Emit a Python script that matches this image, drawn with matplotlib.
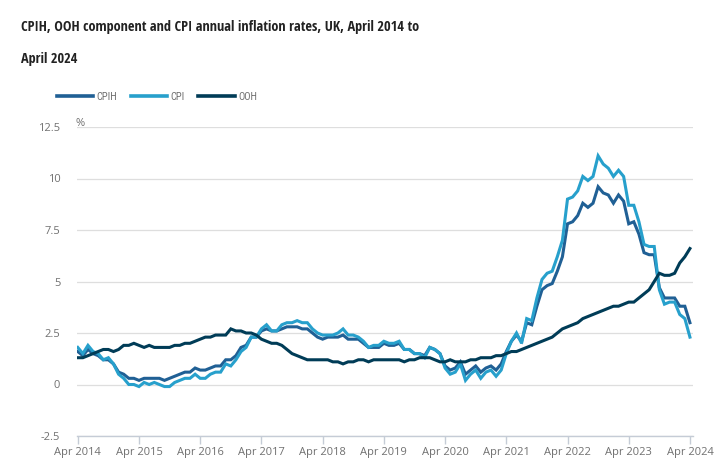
import numpy as np
import matplotlib
matplotlib.use("Agg")
import matplotlib.pyplot as plt
from matplotlib.lines import Line2D
from matplotlib import font_manager as fm

# ---- data (monthly, Apr 2014 .. Apr 2024) ----
cpih = [1.6, 1.4, 1.7, 1.5, 1.4, 1.2, 1.2, 1.0, 0.6,
        0.5, 0.3, 0.3, 0.2, 0.3, 0.3, 0.3, 0.3, 0.2, 0.3, 0.4, 0.5,
        0.6, 0.6, 0.8, 0.7, 0.7, 0.8, 0.9, 0.9, 1.2, 1.2, 1.4, 1.8,
        1.9, 2.3, 2.3, 2.6, 2.7, 2.6, 2.6, 2.7, 2.8, 2.8, 2.8, 2.7,
        2.7, 2.5, 2.3, 2.2, 2.3, 2.3, 2.3, 2.4, 2.2, 2.2, 2.2, 2.0,
        1.8, 1.8, 1.8, 2.0, 1.9, 1.9, 2.0, 1.7, 1.7, 1.5, 1.5, 1.4,
        1.8, 1.7, 1.5, 0.9, 0.7, 0.8, 1.1, 0.5, 0.7, 0.9, 0.6, 0.8,
        0.9, 0.7, 1.0, 1.6, 2.1, 2.4, 2.1, 3.0, 2.9, 3.8, 4.6, 4.8,
        4.9, 5.5, 6.2, 7.8, 7.9, 8.2, 8.8, 8.6, 8.8, 9.6, 9.3, 9.2,
        8.8, 9.2, 8.9, 7.8, 7.9, 7.3, 6.4, 6.3, 6.3, 4.7, 4.2, 4.2,
        4.2, 3.8, 3.8, 3.0]
cpi = [1.8, 1.5, 1.9, 1.6, 1.5, 1.2, 1.3, 1.0, 0.5,
       0.3, 0.0, 0.0, -0.1, 0.1, 0.0, 0.1, 0.0, -0.1, -0.1, 0.1, 0.2,
       0.3, 0.3, 0.5, 0.3, 0.3, 0.5, 0.6, 0.6, 1.0, 0.9, 1.2, 1.6,
       1.8, 2.3, 2.3, 2.7, 2.9, 2.6, 2.6, 2.9, 3.0, 3.0, 3.1, 3.0,
       3.0, 2.7, 2.5, 2.4, 2.4, 2.4, 2.5, 2.7, 2.4, 2.4, 2.3, 2.1,
       1.8, 1.9, 1.9, 2.1, 2.0, 2.0, 2.1, 1.7, 1.7, 1.5, 1.5, 1.3,
       1.8, 1.7, 1.5, 0.8, 0.5, 0.6, 1.0, 0.2, 0.5, 0.7, 0.3, 0.6,
       0.7, 0.4, 0.7, 1.5, 2.1, 2.5, 2.0, 3.2, 3.1, 4.2, 5.1, 5.4,
       5.5, 6.2, 7.0, 9.0, 9.1, 9.4, 10.1, 9.9, 10.1, 11.1, 10.7, 10.5,
       10.1, 10.4, 10.1, 8.7, 8.7, 7.9, 6.8, 6.7, 6.7, 4.6, 3.9, 4.0,
       4.0, 3.4, 3.2, 2.3]
ooh = [1.3, 1.3, 1.4, 1.5, 1.6, 1.7, 1.7, 1.6, 1.7,
       1.9, 1.9, 2.0, 1.9, 1.8, 1.9, 1.8, 1.8, 1.8, 1.8, 1.9, 1.9,
       2.0, 2.0, 2.1, 2.2, 2.3, 2.3, 2.4, 2.4, 2.4, 2.7, 2.6, 2.6,
       2.5, 2.5, 2.4, 2.2, 2.1, 2.0, 2.0, 1.9, 1.7, 1.5, 1.4, 1.3,
       1.2, 1.2, 1.2, 1.2, 1.2, 1.1, 1.1, 1.0, 1.1, 1.1, 1.2, 1.2,
       1.1, 1.2, 1.2, 1.2, 1.2, 1.2, 1.2, 1.1, 1.2, 1.2, 1.3, 1.3,
       1.3, 1.2, 1.1, 1.1, 1.2, 1.1, 1.1, 1.1, 1.2, 1.2, 1.3, 1.3,
       1.3, 1.4, 1.4, 1.5, 1.6, 1.6, 1.7, 1.8, 1.9, 2.0, 2.1, 2.2,
       2.3, 2.5, 2.7, 2.8, 2.9, 3.0, 3.2, 3.3, 3.4, 3.5, 3.6, 3.7,
       3.8, 3.8, 3.9, 4.0, 4.0, 4.2, 4.4, 4.6, 5.0, 5.4, 5.3, 5.3,
       5.4, 5.9, 6.2, 6.6]
series_names = ["CPIH", "CPI", "OOH"]
tick_labels = ["Apr 2014", "Apr 2015", "Apr 2016", "Apr 2017", "Apr 2018",
               "Apr 2019", "Apr 2020", "Apr 2021", "Apr 2022", "Apr 2023", "Apr 2024"]
y_ticks = [-2.5, 0, 2.5, 5, 7.5, 10, 12.5]
title_line1 = "CPIH, OOH component and CPI annual inflation rates, UK, April 2014 to"
title_line2 = "April 2024"

colors = ["#206095", "#27a0cc", "#003c57"]
text_col = "#707070"


def pick_condensed(weight):
    """Find a condensed/narrow font of the given weight if installed."""
    for fam in ["Liberation Sans Narrow", "Open Sans Condensed", "Roboto Condensed"]:
        try:
            p = fm.findfont(fm.FontProperties(family=fam, weight=weight),
                            fallback_to_default=False)
            if weight == "bold" or "Bold" not in p:
                return fam, "normal", True
        except Exception:
            pass
    for fam in ["DejaVu Sans", "Open Sans", "Noto Sans"]:
        try:
            p = fm.findfont(fm.FontProperties(family=fam, stretch="condensed", weight=weight),
                            fallback_to_default=False)
            if "ondensed" in p and (weight == "bold" or "Bold" not in p):
                return fam, "condensed", True
        except Exception:
            pass
    return None, "normal", False


tfam, tstretch, tnarrow = pick_condensed("bold")
lfam, lstretch, lnarrow = pick_condensed("normal")
if tfam is None:
    tfam = "Roboto"
if lfam is None:
    lfam = "Open Sans"

W, H = 728, 471
fig = plt.figure(figsize=(W / 100, H / 100), dpi=100)
ax = fig.add_axes([77 / W, 1 - 436 / H, (693 - 77) / W, (436 - 127) / H])

months = np.arange(len(cpih))
for vals, c, n in zip([cpih, cpi, ooh], colors, series_names):
    ax.plot(months, vals, color=c, lw=2.2, label=n, solid_joinstyle="miter", zorder=3)

ax.set_xlim(-0.15, 120.6)
ax.set_ylim(-2.5, 12.5)
ax.set_yticks(y_ticks)
ax.set_yticklabels([f"{v:g}" for v in y_ticks])
ax.set_xticks(np.arange(0, 121, 12))
ax.set_xticklabels(tick_labels)

for s in ["top", "right", "left"]:
    ax.spines[s].set_visible(False)
ax.spines["bottom"].set_color("#c5ccd6")
ax.spines["bottom"].set_linewidth(1.0)
ax.grid(axis="y", color="#dedede", lw=0.9, zorder=0)
ax.set_axisbelow(True)
ax.tick_params(axis="y", length=0, pad=12, labelsize=8, labelcolor=text_col)
ax.tick_params(axis="x", length=6, width=1, color="#c5ccd6", pad=2,
               labelsize=8, labelcolor=text_col)
for lab in ax.get_xticklabels() + ax.get_yticklabels():
    lab.set_fontfamily("Open Sans")

# percent unit label
fig.text(76 / W, 1 - 126 / H, "%", fontsize=8, color=text_col, family="Open Sans",
         ha="left", va="baseline")

# title (two lines as in the reference)
tsize = 10.4 if tnarrow else 9.6
for txt, yb in [(title_line1, 31.5), (title_line2, 63)]:
    fig.text(21 / W, 1 - yb / H, txt, fontsize=tsize, fontweight="bold", color="#222222",
             family=tfam, fontstretch=tstretch, ha="left", va="baseline")

# legend
lsize = 7.6 if lnarrow else 7.0
handles = [Line2D([], [], color=c, lw=2.6) for c in colors]
leg = fig.legend(handles, series_names, loc="center left",
                 bbox_to_anchor=(47 / W, 1 - 97 / H), ncol=3, frameon=False,
                 handlelength=3.45, handletextpad=0.35, columnspacing=1.25,
                 prop={"family": lfam, "stretch": lstretch, "weight": "normal",
                       "size": lsize})
for t in leg.get_texts():
    t.set_color(text_col)

fig.savefig("out.png", dpi=100)
